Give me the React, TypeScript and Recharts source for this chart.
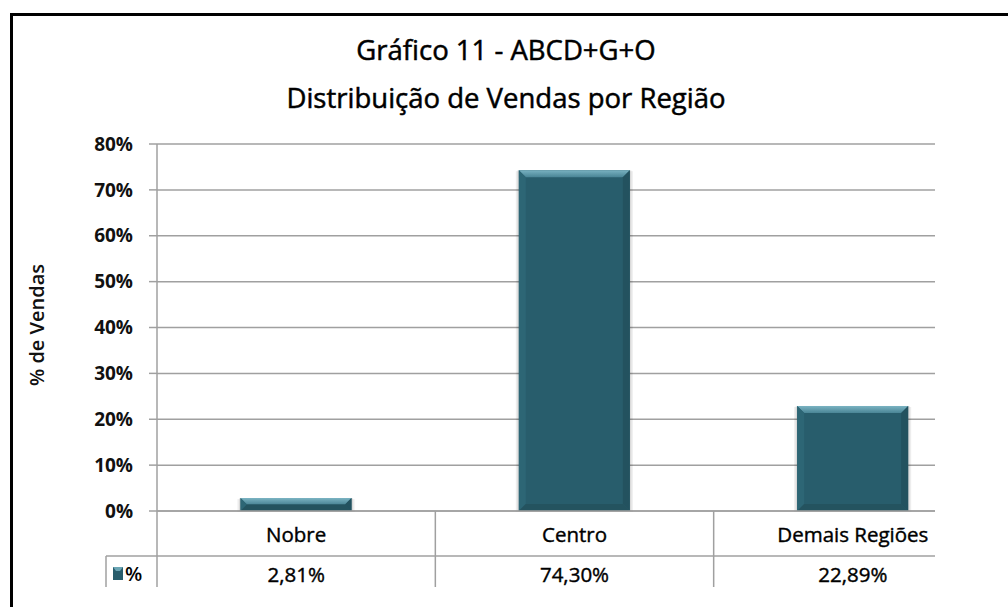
import React from "react";
import { BarChart, Bar, XAxis, YAxis, CartesianGrid } from "recharts";

const categories = ["Nobre", "Centro", "Demais Regiões"];
const salesShare = [0.0281, 0.743, 0.2289];
const valueLabels = ["2,81%", "74,30%", "22,89%"];
const yTicks = [0, 0.1, 0.2, 0.3, 0.4, 0.5, 0.6, 0.7, 0.8];
const titleLines = ["Gráfico 11 - ABCD+G+O", "Distribuição de Vendas por Região"];
const yAxisTitle = "% de Vendas";
const seriesName = "%";

const data = categories.map((c, i) => ({ name: c, value: salesShare[i], label: valueLabels[i] }));

const FONT = "'Open Sans', 'DejaVu Sans', sans-serif";
const CHART_W = 1000;
const CHART_H = 590;
const MARGIN = { top: 144, right: 8, left: 0, bottom: 0 };
const Y_W = 157;
const X_H = 79;
const PLOT_W = CHART_W - MARGIN.left - MARGIN.right - Y_W;
const BAND = PLOT_W / categories.length;
const LINE = "#a0a0a0";
const FACE = "#285d6c";

const BevelBar = (props: any) => {
  const x = Number(props.x);
  const y = Number(props.y);
  const width = Number(props.width);
  const height = Number(props.height);
  if (!(height > 0) || !(width > 0)) return null;
  const b = Math.min(7, height / 2);
  return (
    <g>
      <rect x={x - 3} y={y + 1} width={width + 6} height={height} fill="#000" opacity={0.07} />
      <rect x={x - 1.5} y={y} width={width + 3} height={height} fill="#000" opacity={0.08} />
      <rect x={x} y={y} width={width} height={height} fill={FACE} />
      <polygon points={`${x},${y} ${x + width},${y} ${x + width - b},${y + b} ${x + b},${y + b}`} fill="url(#topBevel)" />
      <polygon points={`${x},${y} ${x + b},${y + b} ${x + b},${y + height - b} ${x},${y + height}`} fill="#2d6675" />
      <polygon points={`${x + width},${y} ${x + width - b},${y + b} ${x + width - b},${y + height - b} ${x + width},${y + height}`} fill="#23525f" />
      <polygon points={`${x},${y + height} ${x + b},${y + height - b} ${x + width - b},${y + height - b} ${x + width},${y + height}`} fill="#24535f" />
    </g>
  );
};

const TableTick = (props: any) => {
  const { x, y, payload, index } = props;
  const i = payload.index ?? index;
  const d = data[i];
  const left = x - BAND / 2;
  const right = x + BAND / 2;
  const top = y;
  return (
    <g>
      <line x1={right} y1={top} x2={right} y2={top + 80} stroke={LINE} strokeWidth={1.5} />
      {i === 0 && (
        <g>
          <line x1={left} y1={top} x2={left} y2={top + 80} stroke={LINE} strokeWidth={1.5} />
          <line x1={left - 51} y1={top + 45} x2={left + BAND * 3} y2={top + 45} stroke={LINE} strokeWidth={1.5} />
          <line x1={left - 51} y1={top + 45} x2={left - 51} y2={top + 80} stroke={LINE} strokeWidth={1.5} />
          <rect x={left - 44} y={top + 56} width={10} height={13} fill={FACE} />
          <polygon points={`${left - 44},${top + 56} ${left - 34},${top + 56} ${left - 37},${top + 60} ${left - 41},${top + 60}`} fill="#6aa5b4" />
          <text x={left - 32} y={top + 70} fontFamily={FONT} fontSize={20} fontWeight={600} fill="#000">{seriesName}</text>
        </g>
      )}
      <text x={x} y={top + 31} textAnchor="middle" fontFamily={FONT} fontSize={20.5} fill="#000" stroke="#000" strokeWidth={0.4}>{d.name}</text>
      <text x={x} y={top + 71} textAnchor="middle" fontFamily={FONT} fontSize={20.5} fill="#000" stroke="#000" strokeWidth={0.4}>{d.label}</text>
    </g>
  );
};

const YLabel = () => (
  <text x={44} y={325} transform="rotate(-90 44 325)" textAnchor="middle" fontFamily={FONT} fontSize={20} fontWeight={600} fill="#111">
    {yAxisTitle}
  </text>
);

export default function App() {
  return (
    <div style={{ position: "fixed", left: 0, top: 0, width: 1008, height: 607, overflow: "hidden", background: "#fff" }}>
      <div style={{ position: "absolute", left: 10, top: 13, width: 1100, height: 700, border: "3px solid #000", boxSizing: "border-box" }} />
      {titleLines.map((t, i) => (
        <div
          key={i}
          style={{
            position: "absolute",
            left: 0,
            width: 1012,
            top: 32 + i * 48,
            textAlign: "center",
            fontFamily: FONT,
            fontSize: 27.5,
            lineHeight: "36px",
            color: "#000",
            WebkitTextStroke: "0.5px #000",
          }}
        >
          {t}
        </div>
      ))}
      <div style={{ position: "absolute", left: 0, top: 0, width: 935, height: 587, overflow: "hidden" }}>
        <BarChart width={CHART_W} height={CHART_H} data={data} margin={MARGIN} barCategoryGap="30%">
          <defs>
            <linearGradient id="topBevel" x1="0" y1="0" x2="0" y2="1">
              <stop offset="0%" stopColor="#7ab3c2" />
              <stop offset="100%" stopColor="#4a8596" />
            </linearGradient>
          </defs>
          <CartesianGrid horizontal vertical={false} stroke={LINE} strokeWidth={1.5} />
          <XAxis
            dataKey="name"
            height={X_H}
            axisLine={{ stroke: LINE, strokeWidth: 1.5 }}
            tickLine={false}
            tickSize={0}
            tickMargin={0}
            tick={<TableTick />}
            interval={0}
          />
          <YAxis
            width={Y_W}
            domain={[0, 0.8]}
            ticks={yTicks}
            tickFormatter={(v: number) => `${Math.round(v * 100)}%`}
            axisLine={{ stroke: LINE, strokeWidth: 1.5 }}
            tickLine={{ stroke: LINE, strokeWidth: 1.5 }}
            tickSize={8}
            tickMargin={16}
            tick={{ fontFamily: FONT, fontSize: 19, fontWeight: 700, fill: "#111" }}
            label={<YLabel />}
          />
          <Bar dataKey="value" shape={<BevelBar />} isAnimationActive={false} />
        </BarChart>
      </div>
    </div>
  );
}
